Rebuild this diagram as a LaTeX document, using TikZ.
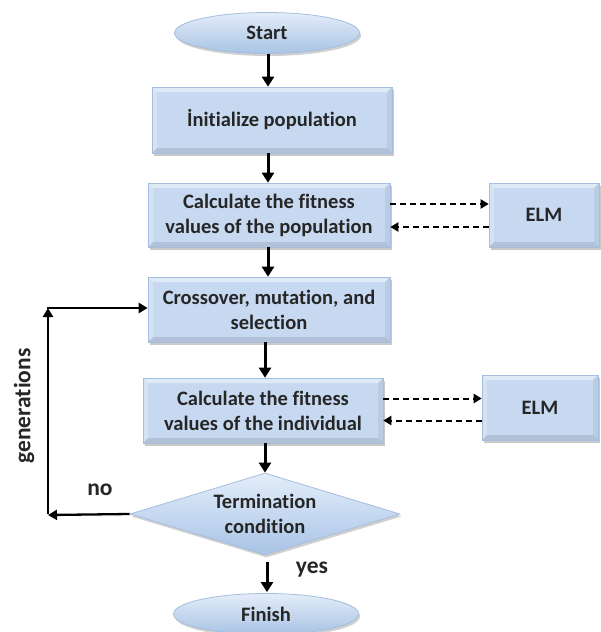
\documentclass[tikz,border=0pt]{standalone}
\usepackage{fontspec}
\setmainfont[Ligatures={NoCommon}]{Carlito}
\usetikzlibrary{shapes.geometric,arrows.meta,shadows}
\definecolor{boxblue}{RGB}{198,217,241}
\definecolor{boxedge}{RGB}{165,190,222}
\definecolor{ellhi}{RGB}{228,237,249}
\definecolor{elllo}{RGB}{168,195,228}
\definecolor{txt}{RGB}{38,38,38}
\begin{document}
\begin{tikzpicture}[x=1pt,y=-1pt,
  every node/.style={font=\bfseries\fontsize{20.5}{25}\selectfont, text=txt},
  bevel/.style={path picture={
    \coordinate (pnw) at (path picture bounding box.north west);
    \coordinate (pne) at (path picture bounding box.north east);
    \coordinate (psw) at (path picture bounding box.south west);
    \coordinate (pse) at (path picture bounding box.south east);
    \fill[white,opacity=.45] (pnw) -- (pne) -- ([shift={(-5pt,-5pt)}]pne) -- ([shift={(5pt,-5pt)}]pnw) -- cycle;
    \fill[white,opacity=.25] (pnw) -- (psw) -- ([shift={(5pt,5pt)}]psw) -- ([shift={(5pt,-5pt)}]pnw) -- cycle;
    \fill[black,opacity=.10] (psw) -- (pse) -- ([shift={(-5pt,5pt)}]pse) -- ([shift={(5pt,5pt)}]psw) -- cycle;
    \fill[black,opacity=.06] (pne) -- (pse) -- ([shift={(-5pt,5pt)}]pse) -- ([shift={(-5pt,-5pt)}]pne) -- cycle;
  }},
  boxnode/.style={rectangle, fill=boxblue, draw=boxedge, line width=0.6pt, align=center, bevel,
    drop shadow={shadow xshift=2pt, shadow yshift=-3pt, opacity=.35, fill=black!60},
    inner sep=2pt},
  ellnode/.style={ellipse, top color=ellhi, bottom color=elllo, draw=boxedge, line width=0.8pt,
    minimum width=185pt, minimum height=41pt, inner sep=0pt,
    drop shadow={shadow xshift=1.5pt, shadow yshift=-2.5pt, opacity=.3, fill=black!60}},
  dianode/.style={diamond, top color=ellhi, bottom color=elllo, middle color=boxblue, draw=boxedge, line width=0.8pt,
    minimum width=270pt, minimum height=82pt, inner sep=0pt, aspect=3.3, align=center,
    drop shadow={shadow xshift=1.5pt, shadow yshift=-2.5pt, opacity=.3, fill=black!60}},
  flow/.style={line width=3pt, -{Triangle[length=10pt,width=12pt]}},
  dasharrow/.style={line width=2pt, dash pattern=on 6pt off 4pt, -{Triangle[length=8pt,width=9pt]}},
  fb/.style={line width=2.3pt, -{Triangle[length=9pt,width=10pt]}},
  lbl/.style={font=\bfseries\fontsize{23.5}{26}\selectfont, text=txt}
]
\useasboundingbox (0,0) rectangle (600,632);
\fill[white] (0,0) rectangle (600,632);

\node[ellnode] (start) at (267,33) {Start};
\node[boxnode, minimum width=240pt, minimum height=66pt] (init) at (272,120) {İnitialize population};
\node[boxnode, minimum width=242pt, minimum height=64pt] (calc1) at (269,215) {Calculate the fitness\\values of the population};
\node[boxnode, minimum width=110pt, minimum height=64pt] (elm1) at (544,215) {ELM};
\node[boxnode, minimum width=242pt, minimum height=65pt] (cross) at (269,309.5) {Crossover, mutation, and\\selection};
\node[boxnode, minimum width=240pt, minimum height=65pt] (calc2) at (263,410.5) {Calculate the fitness\\values of the individual};
\node[boxnode, minimum width=116pt, minimum height=65pt] (elm2) at (540,407.5) {ELM};
\node[dianode] (term) at (265,514) {Termination\\condition};
\node[ellnode] (finish) at (266,614) {Finish};

\coordinate (a1) at (268,53);
\draw[flow] (start.south -| a1) -- (init.north -| a1);
\draw[flow] (init.south -| a1) -- (calc1.north -| a1);
\draw[flow] (calc1.south -| a1) -- (cross.north -| a1);
\coordinate (a2) at (265,0);
\draw[flow] (cross.south -| a2) -- (calc2.north -| a2);
\draw[flow] (calc2.south -| a2) -- (term.north -| a2);
\coordinate (a3) at (267,0);
\draw[flow] ([yshift=-7pt]term.south -| a3) -- ([yshift=1pt]finish.north -| a3);

\draw[dasharrow] ([yshift=11pt]calc1.east) -- ([yshift=11pt]calc1.east -| elm1.west);
\draw[dasharrow] ([yshift=-12pt]calc1.east -| elm1.west) -- ([yshift=-12pt]calc1.east);
\draw[dasharrow] ([yshift=12pt]calc2.east) -- ([yshift=12pt]calc2.east -| elm2.west);
\draw[dasharrow] ([yshift=-10pt]calc2.east -| elm2.west) -- ([yshift=-10pt]calc2.east);

\coordinate (nc) at (48,515);
\coordinate (tc) at (48,308);
\draw[fb] (term.west) -- (nc);
\draw[fb] ([yshift=1.15pt]nc) -- (tc);
\draw[line width=2.3pt] ([yshift=1.15pt]tc) -- ([yshift=-1.15pt]tc);
\draw[fb] ([xshift=-1.15pt]tc) -- (tc -| cross.west);

\node[lbl] (no) at (100,490) {no};
\node[lbl] (yes) at (312,570) {yes};
\node[lbl, rotate=90] (gen) at (24,406) {generations};
\end{tikzpicture}
\end{document}
